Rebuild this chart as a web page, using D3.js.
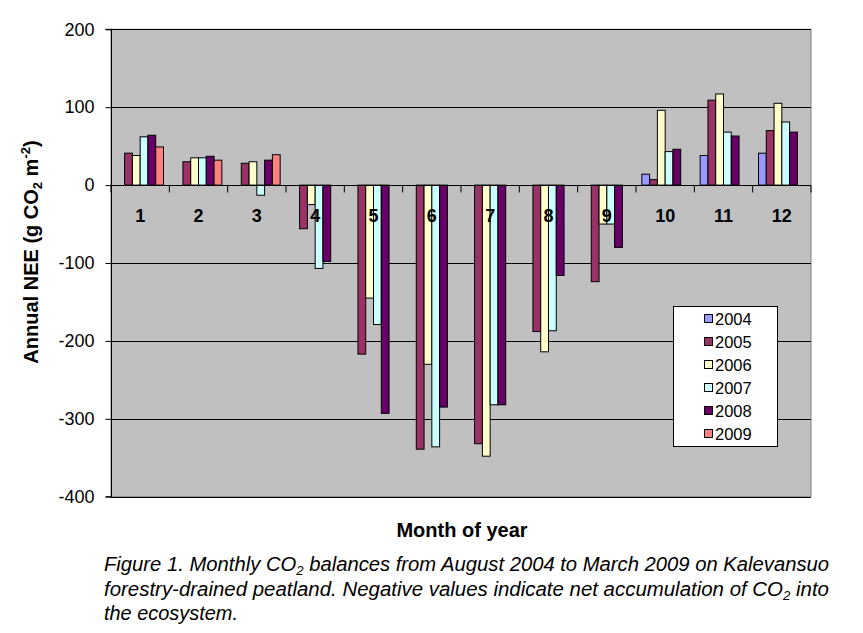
<!DOCTYPE html>
<html>
<head>
<meta charset="utf-8">
<script src="https://cdn.jsdelivr.net/npm/d3@7"></script>
<style>
  body { margin: 0; background: #fff; }
  svg, svg text { font-family: "Liberation Sans", Arial, sans-serif; }
</style>
</head>
<body>
<svg width="863" height="633"></svg>
<script>
var months = [1, 2, 3, 4, 5, 6, 7, 8, 9, 10, 11, 12]
var years = ['2004', '2005', '2006', '2007', '2008', '2009']
var colors = ['#9999ff', '#993366', '#ffffcc', '#ccffff', '#660066', '#ff8080']

var v2004 = [null, null, null, null, null, null, null, null, null, 14, 38, 41]
var v2005 = [41, 30, 28, -56, -217, -339, -332, -188, -124, 7, 109, 70]
var v2006 = [38, 35, 30, -25, -145, -230, -348, -214, -50, 96, 117, 105]
var v2007 = [62, 35, -13, -107, -179, -336, -282, -187, -50, 43, 68, 81]
var v2008 = [64, 37, 32, -98, -293, -285, -282, -116, -80, 46, 63, 68]
var v2009 = [49, 32, 39, null, null, null, null, null, null, null, null, null]
var series = [v2004, v2005, v2006, v2007, v2008, v2009]

var yTicks = [200, 100, 0, -100, -200, -300, -400]

var svg = d3.select('svg')
  , plot = { left: 111, right: 811, top: 29.3, bottom: 496.7 }

var x0 = d3.scaleBand().domain(months).range([plot.left, plot.right])
var step = x0.bandwidth()
var bw = step / 7.5
var x1 = d3.scaleBand().domain(years).range([bw * 0.75, bw * 6.75])
var y = d3.scaleLinear().domain([-400, 200]).range([plot.bottom, plot.top])

// plot area
svg.append('rect')
  .attr('x', plot.left).attr('y', plot.top)
  .attr('width', plot.right - plot.left).attr('height', plot.bottom - plot.top)
  .attr('fill', '#c0c0c0').attr('stroke', '#808080')

// gridlines
svg.append('g').selectAll('line').data(yTicks).enter().append('line')
  .attr('x1', plot.left).attr('x2', plot.right)
  .attr('y1', function (d) { return Math.round(y(d)) + .5 })
  .attr('y2', function (d) { return Math.round(y(d)) + .5 })
  .attr('stroke', '#000')

// bars
var rows = []
series.forEach(function (vals, si) {
  vals.forEach(function (v, mi) {
    if (v != null) rows.push({ year: years[si], month: months[mi], value: v, color: colors[si] })
  })
})

svg.append('g').selectAll('rect').data(rows).enter().append('rect')
  .attr('x', function (d) { return x0(d.month) + x1(d.year) })
  .attr('width', x1.bandwidth())
  .attr('y', function (d) { return y(Math.max(0, d.value)) })
  .attr('height', function (d) { return Math.abs(y(d.value) - y(0)) })
  .attr('fill', function (d) { return d.color })
  .attr('stroke', '#000').attr('stroke-width', 1)

// zero axis with category ticks
var zy = Math.round(y(0)) + .5
svg.append('line')
  .attr('x1', plot.left).attr('x2', plot.right).attr('y1', zy).attr('y2', zy)
  .attr('stroke', '#000')
svg.append('g').selectAll('line').data(months.concat([13])).enter().append('line')
  .attr('x1', function (d) { return d == 13 ? plot.right : x0(d) })
  .attr('x2', function (d) { return d == 13 ? plot.right : x0(d) })
  .attr('y1', zy).attr('y2', zy + 7)
  .attr('stroke', '#000')

svg.append('g').selectAll('text').data(months).enter().append('text')
  .attr('x', function (d) { return x0(d) + step / 2 })
  .attr('y', 222)
  .attr('text-anchor', 'middle')
  .attr('font-size', 18).attr('font-weight', 'bold')
  .text(function (d) { return d })

// y axis
var yAxis = d3.axisLeft(y).tickValues(yTicks).tickSize(6).tickPadding(11)
  .tickFormat(function (d) { return String(d) })
var ga = svg.append('g').attr('transform', 'translate(' + (plot.left + .5) + ',0)').call(yAxis)
ga.attr('font-family', null)
ga.select('.domain').attr('stroke', '#000').attr('d', 'M-6,' + plot.top + 'H0V' + plot.bottom + 'H-6')
ga.selectAll('text').attr('font-size', 18).attr('fill', '#000')

// y title
var yt = svg.append('text')
  .attr('transform', 'translate(38,252) rotate(-90)')
  .attr('text-anchor', 'middle')
  .attr('font-size', 20).attr('font-weight', 'bold')
yt.append('tspan').text('Annual NEE (g CO')
yt.append('tspan').attr('font-size', 13).attr('dy', 4).text('2')
yt.append('tspan').attr('dy', -4).text(' m')
yt.append('tspan').attr('font-size', 13).attr('dy', -8).text('-2')
yt.append('tspan').attr('dy', 8).text(')')

// x title
svg.append('text')
  .attr('x', 462).attr('y', 537)
  .attr('text-anchor', 'middle')
  .attr('font-size', 20).attr('font-weight', 'bold')
  .text('Month of year')

// legend
var lg = svg.append('g').attr('transform', 'translate(673,306)')
lg.append('rect').attr('x', .5).attr('y', .5).attr('width', 104).attr('height', 140)
  .attr('fill', '#fff').attr('stroke', '#000')
var li = lg.selectAll('g.item').data(years).enter().append('g')
  .attr('transform', function (d, i) { return 'translate(0,' + (13 + i * 23) + ')' })
li.append('rect').attr('x', 31.5).attr('y', -4.5).attr('width', 8).attr('height', 8)
  .attr('fill', function (d, i) { return colors[i] }).attr('stroke', '#000')
li.append('text').attr('x', 42).attr('y', 6).attr('font-size', 16.5).text(function (d) { return d })

// caption
var cap = svg.append('g').attr('font-size', 20).attr('font-style', 'italic')
var c1 = cap.append('text').attr('x', 104).attr('y', 571)
  .attr('textLength', 725).attr('lengthAdjust', 'spacingAndGlyphs')
c1.append('tspan').text('Figure 1. Monthly CO')
c1.append('tspan').attr('font-size', 13).attr('dy', 4).text('2')
c1.append('tspan').attr('dy', -4).text(' balances from August 2004 to March 2009 on Kalevansuo')
var c2 = cap.append('text').attr('x', 104).attr('y', 596)
  .attr('textLength', 725).attr('lengthAdjust', 'spacingAndGlyphs')
c2.append('tspan').text('forestry-drained peatland. Negative values indicate net accumulation of CO')
c2.append('tspan').attr('font-size', 13).attr('dy', 4).text('2')
c2.append('tspan').attr('dy', -4).text(' into')
cap.append('text').attr('x', 104).attr('y', 620)
  .attr('textLength', 134).attr('lengthAdjust', 'spacingAndGlyphs')
  .text('the ecosystem.')
</script>
</body>
</html>
